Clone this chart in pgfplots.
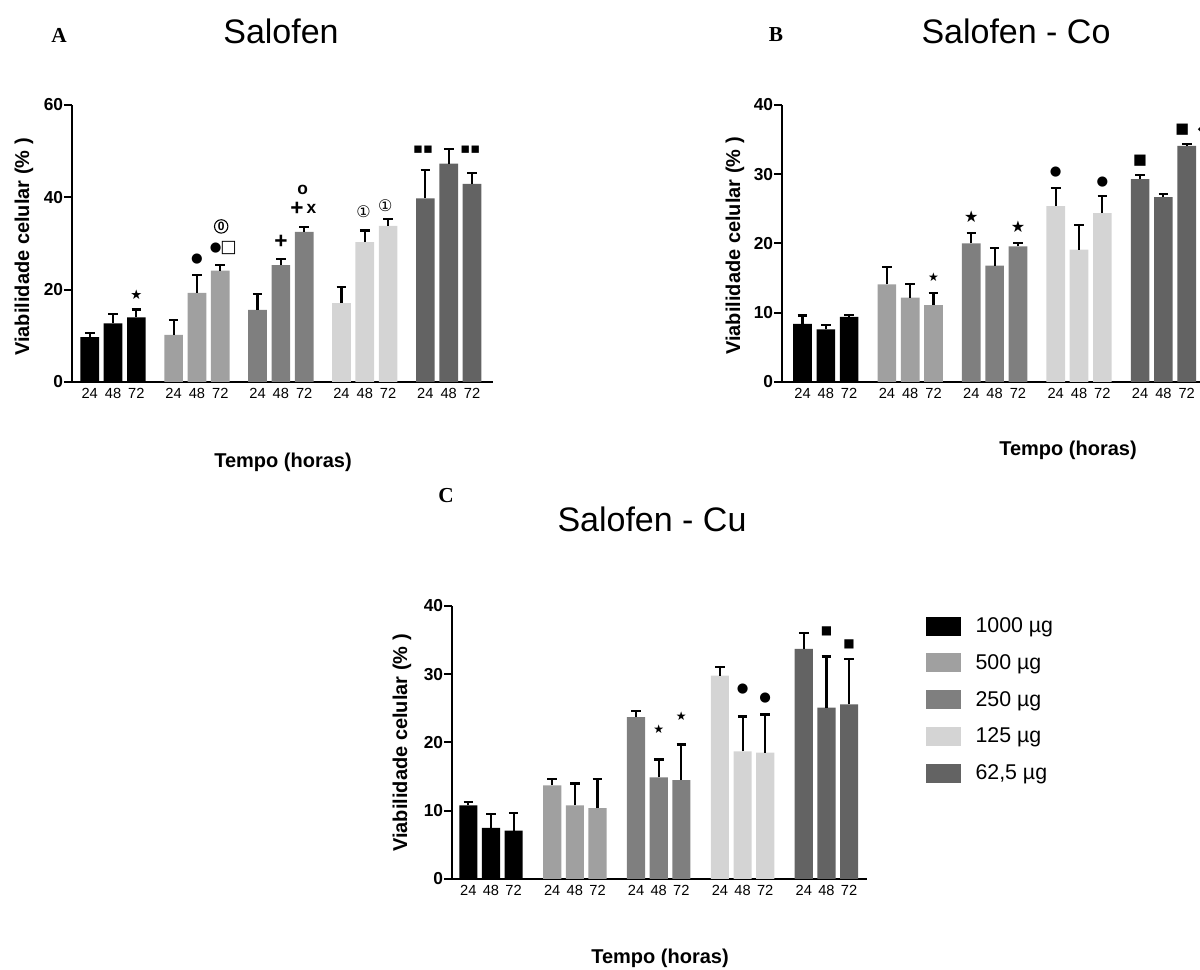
\documentclass[border=0pt]{standalone}
\usepackage{pgfplots}
\usepackage{pgfplotstable}
\pgfplotsset{compat=1.18}
\usepackage{fontspec}
\setmainfont{Liberation Sans}
\newfontfamily\serifb{Liberation Serif}
\newfontfamily\sym{DejaVu Sans}
\definecolor{c1000}{HTML}{000000}
\definecolor{c500}{HTML}{A0A0A0}
\definecolor{c250}{HTML}{7F7F7F}
\definecolor{c125}{HTML}{D4D4D4}
\definecolor{c62}{HTML}{636363}
\newcommand{\fs}[1]{\fontsize{#1}{#1}\selectfont}
% ---- data: x position, mean viability, upper error ----
% Salofen
\pgfplotstableread[row sep=\\]{x y e\\ 0 9.7 0.9\\ 1 12.7 2.0\\ 2 14.0 1.7\\}\Aa
\pgfplotstableread[row sep=\\]{x y e\\ 3.6 10.2 3.3\\ 4.6 19.3 3.9\\ 5.6 24.1 1.2\\}\Ab
\pgfplotstableread[row sep=\\]{x y e\\ 7.2 15.6 3.5\\ 8.2 25.3 1.3\\ 9.2 32.5 1.0\\}\Ac
\pgfplotstableread[row sep=\\]{x y e\\ 10.8 17.1 3.4\\ 11.8 30.3 2.5\\ 12.8 33.8 1.5\\}\Ad
\pgfplotstableread[row sep=\\]{x y e\\ 14.4 39.8 6.1\\ 15.4 47.3 3.2\\ 16.4 42.9 2.4\\}\Ae
% Salofen - Co
\pgfplotstableread[row sep=\\]{x y e\\ 0 8.4 1.2\\ 1 7.6 0.6\\ 2 9.4 0.3\\}\Ba
\pgfplotstableread[row sep=\\]{x y e\\ 3.62 14.1 2.5\\ 4.62 12.2 2.0\\ 5.62 11.1 1.7\\}\Bb
\pgfplotstableread[row sep=\\]{x y e\\ 7.24 20.0 1.5\\ 8.24 16.8 2.5\\ 9.24 19.6 0.5\\}\Bc
\pgfplotstableread[row sep=\\]{x y e\\ 10.86 25.4 2.6\\ 11.86 19.1 3.6\\ 12.86 24.4 2.5\\}\Bd
\pgfplotstableread[row sep=\\]{x y e\\ 14.48 29.3 0.6\\ 15.48 26.7 0.4\\ 16.48 34.1 0.3\\}\Be
% Salofen - Cu
\pgfplotstableread[row sep=\\]{x y e\\ 0 10.8 0.5\\ 1 7.5 2.0\\ 2 7.1 2.6\\}\Ca
\pgfplotstableread[row sep=\\]{x y e\\ 3.7 13.7 0.9\\ 4.7 10.8 3.2\\ 5.7 10.4 4.2\\}\Cb
\pgfplotstableread[row sep=\\]{x y e\\ 7.4 23.7 0.9\\ 8.4 14.9 2.6\\ 9.4 14.5 5.2\\}\Cc
\pgfplotstableread[row sep=\\]{x y e\\ 11.1 29.8 1.3\\ 12.1 18.7 5.1\\ 13.1 18.5 5.6\\}\Cd
\pgfplotstableread[row sep=\\]{x y e\\ 14.8 33.7 2.3\\ 15.8 25.1 7.5\\ 16.8 25.6 6.6\\}\Ce
\pgfplotsset{
  panel/.style={
    scale only axis, clip=false,
    axis x line=bottom, axis y line=left,
    axis line style={line width=1.5pt,-},
    tick align=outside, major tick length=6pt,
    ymin=0,
    xtick style={draw=none},
    ytick style={line width=1.5pt, black},
    extra x tick labels={},
    extra x tick style={tick style={draw=black, line width=1.5pt}},
    xticklabels={24,48,72,24,48,72,24,48,72,24,48,72,24,48,72},
    xticklabel style={font=\fs{11}, yshift=4.5pt},
    yticklabel style={font=\bfseries\fs{13}, inner sep=0.5pt},
    /pgf/number format/assume math mode=true,
  },
  barsty/.style={ybar, bar width=0.8, bar shift=0pt, draw=none,
    legend image code/.code={\fill[##1] (0pt,-7.1pt) rectangle (26pt,7.1pt);},
    error bars/y dir=plus, error bars/y explicit,
    error bars/error bar style={draw=black, line width=1.6pt, solid},
    error bars/error mark=|,
    error bars/error mark options={draw=black, line width=1.6pt, mark size=3.6pt, solid}},
}
\newcommand{\bars}[2]{%
  \addplot[fill=#2, barsty] table[x=x,y=y,y error=e] {#1};}
\begin{document}
\begin{tikzpicture}
\path[use as bounding box] (0,0) rectangle (900pt,727.5pt);
% ---------------- Panel A ----------------
\begin{axis}[panel, at={(54pt,441pt)}, anchor=south west, width=315.75pt, height=207.75pt,
  xmin=-0.76, xmax=17.3, ymax=60, ytick={0,20,40,60},
  xtick={0,1,2,3.6,4.6,5.6,7.2,8.2,9.2,10.8,11.8,12.8,14.4,15.4,16.4},
  extra x ticks={1,4.6,8.2,11.8,15.4}]
\bars{\Aa}{c1000}\bars{\Ab}{c500}\bars{\Ac}{c250}\bars{\Ad}{c125}\bars{\Ae}{c62}
\node[font=\sym\fs{10}] at (axis cs:2,18.9) {★};
\node[font=\sym\fs{10}] at (axis cs:4.6,26.6) {●};
\node[font=\sym\fs{10}] at (axis cs:5.4,29.0) {●};
\node[font=\sym\fs{13}] at (axis cs:5.96,29.0) {□};
\node[circle, draw, line width=0.8pt, inner sep=0.7pt, font=\bfseries\fs{9}] at (axis cs:5.64,33.7) {0};
\node[font=\bfseries\fs{17}] at (axis cs:8.2,30.3) {+};
\node[font=\bfseries\fs{17}] at (axis cs:8.89,37.5) {+};
\node[font=\bfseries\fs{13}] at (axis cs:9.51,37.5) {x};
\node[font=\bfseries\fs{13}] at (axis cs:9.13,41.6) {o};
\node[font=\sym\fs{12}] at (axis cs:11.75,36.9) {①};
\node[font=\sym\fs{12}] at (axis cs:12.68,38.2) {①};
\node[font=\sym\fs{11}] at (axis cs:14.3,50.3) {▪▪};
\node[font=\sym\fs{11}] at (axis cs:16.33,50.3) {▪▪};
\end{axis}
% ---------------- Panel B ----------------
\begin{axis}[panel, at={(586.5pt,441pt)}, anchor=south west, width=317pt, height=207.75pt,
  xmin=-0.88, xmax=17.25, ymax=40, ytick={0,10,20,30,40},
  xtick={0,1,2,3.62,4.62,5.62,7.24,8.24,9.24,10.86,11.86,12.86,14.48,15.48,16.48},
  extra x ticks={1,4.62,8.24,11.86,15.48}]
\bars{\Ba}{c1000}\bars{\Bb}{c500}\bars{\Bc}{c250}\bars{\Bd}{c125}\bars{\Be}{c62}
\node[font=\sym\fs{9}] at (axis cs:5.62,15.2) {★};
\node[font=\sym\fs{12}] at (axis cs:7.24,23.8) {★};
\node[font=\sym\fs{12}] at (axis cs:9.24,22.4) {★};
\node[font=\sym\fs{10}] at (axis cs:10.86,30.3) {●};
\node[font=\sym\fs{10}] at (axis cs:12.86,28.9) {●};
\node[font=\sym\fs{11}] at (axis cs:14.48,31.9) {■};
\node[font=\sym\fs{11}] at (axis cs:16.29,36.4) {■};
\node[font=\sym\fs{11}] at (axis cs:17.2,36.5) {◆};
\end{axis}
% ---------------- Panel C ----------------
\begin{axis}[panel, at={(339pt,68.25pt)}, anchor=south west, width=311.25pt, height=204.75pt,
  xmin=-0.72, xmax=17.59, ymax=40, ytick={0,10,20,30,40},
  xtick={0,1,2,3.7,4.7,5.7,7.4,8.4,9.4,11.1,12.1,13.1,14.8,15.8,16.8},
  extra x ticks={1,4.7,8.4,12.1,15.8},
  legend style={at={(axis description cs:1.142,0.968)}, anchor=north west, draw=none, fill=none,
    font=\fs{16}, row sep=10.9pt, inner sep=0pt, nodes={inner sep=2pt},
    /tikz/every odd column/.append style={column sep=9pt}},
  legend cell align=left]
\bars{\Ca}{c1000}\addlegendentry{1000 µg}
\bars{\Cb}{c500}\addlegendentry{500 µg}
\bars{\Cc}{c250}\addlegendentry{250 µg}
\bars{\Cd}{c125}\addlegendentry{125 µg}
\bars{\Ce}{c62}\addlegendentry{62,5 µg}
\node[font=\sym\fs{9}] at (axis cs:8.4,22.0) {★};
\node[font=\sym\fs{9}] at (axis cs:9.4,23.8) {★};
\node[font=\sym\fs{10}] at (axis cs:12.1,27.9) {●};
\node[font=\sym\fs{10}] at (axis cs:13.1,26.5) {●};
\node[font=\sym\fs{9}] at (axis cs:15.8,36.3) {■};
\node[font=\sym\fs{9}] at (axis cs:16.8,34.4) {■};
\end{axis}
% ---------------- texts ----------------
\node[font=\fs{25.5}] at (210.75pt,704.25pt) {Salofen};
\node[font=\fs{25.5}] at (762pt,704.25pt) {Salofen - Co};
\node[font=\fs{25.5}] at (489pt,338.25pt) {Salofen - Cu};
\node[font=\serifb\bfseries\fs{16}] at (44.25pt,701.25pt) {A};
\node[font=\serifb\bfseries\fs{16}] at (582pt,701.25pt) {B};
\node[font=\serifb\bfseries\fs{16}] at (334.5pt,355.5pt) {C};
\node[font=\bfseries\fs{15}] at (212.25pt,381pt) {Tempo (horas)};
\node[font=\bfseries\fs{15}] at (801pt,390pt) {Tempo (horas)};
\node[font=\bfseries\fs{15}] at (495pt,9pt) {Tempo (horas)};
\node[font=\bfseries\fs{15}, rotate=90] at (18pt,542.25pt) {Viabilidade celular (\% )};
\node[font=\bfseries\fs{15}, rotate=90] at (551.25pt,543pt) {Viabilidade celular (\% )};
\node[font=\bfseries\fs{15}, rotate=90] at (301.5pt,170.25pt) {Viabilidade celular (\% )};
\end{tikzpicture}
\end{document}
